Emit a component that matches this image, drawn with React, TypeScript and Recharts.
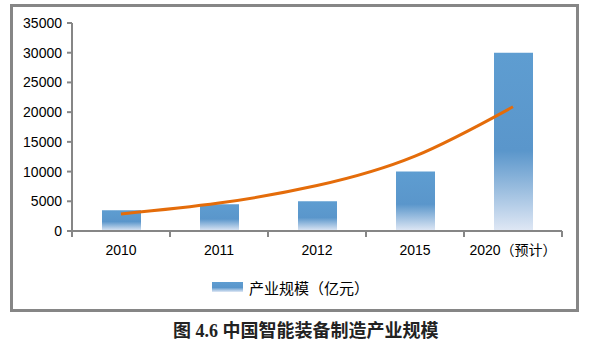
import {
  ComposedChart,
  Bar,
  Line,
  XAxis,
  YAxis,
  Legend,
} from "recharts";

const years = ["2010", "2011", "2012", "2015", "2020（预计）"];
const scaleValues = [3500, 4500, 5000, 10000, 30000]; // 产业规模（亿元）
const trendValues = [2860, 4700, 7650, 12600, 20900]; // 指数趋势线
const yTicks = [0, 5000, 10000, 15000, 20000, 25000, 30000, 35000];

const data = years.map((y, i) => ({
  year: y,
  value: scaleValues[i],
  trend: trendValues[i],
}));

const AXIS = "#868686";
const FONT = "'Liberation Sans', 'Noto Sans CJK SC', sans-serif";
const TICK_GAP = 14;

// 刻度线画在分类边界上，文字居中
const XTick = (props: any) => {
  const { x, y, payload, index, visibleTicksCount } = props;
  const off = payload?.offset ?? 0;
  const top = y - TICK_GAP;
  const last = index === visibleTicksCount - 1;
  return (
    <g>
      <line x1={x - off} x2={x - off} y1={top} y2={top + 6} stroke={AXIS} strokeWidth={2} />
      {last && (
        <line x1={x + off} x2={x + off} y1={top} y2={top + 6} stroke={AXIS} strokeWidth={2} />
      )}
      <text x={x} y={y} dy="0.71em" textAnchor="middle" fill="#000" fontSize={14} fontFamily={FONT}>
        {payload.value}
      </text>
    </g>
  );
};

const LegendBox = () => (
  <div style={{ display: "flex", alignItems: "center", height: 18, fontFamily: FONT, fontSize: 15 }}>
    <svg width={31} height={10} style={{ marginRight: 6 }}>
      <rect x={0} y={0} width={31} height={10} fill="url(#barGrad)" />
    </svg>
    <span>产业规模（亿元）</span>
  </div>
);

export default function App() {
  return (
    <div style={{ position: "absolute", left: 0, top: 0, width: 595, height: 346, background: "#fff" }}>
      <div
        style={{
          position: "absolute",
          left: 10,
          top: 4,
          width: 569,
          height: 308,
          border: `3px solid ${AXIS}`,
          boxSizing: "border-box",
        }}
      >
        <ComposedChart
          width={563}
          height={302}
          data={data}
          margin={{ top: 16, right: 14, left: 0, bottom: 30 }}
        >
          <defs>
            <linearGradient id="barGrad" x1="0" y1="0" x2="0" y2="1">
              <stop offset="0" stopColor="#5E9DD1" />
              <stop offset="0.55" stopColor="#5A96CB" />
              <stop offset="1" stopColor="#E0E8F5" />
            </linearGradient>
          </defs>
          <XAxis
            dataKey="year"
            interval={0}
            height={30}
            tickSize={0}
            tickMargin={TICK_GAP}
            tick={<XTick />}
            axisLine={{ stroke: AXIS, strokeWidth: 2 }}
          />
          <YAxis
            width={59}
            domain={[0, 35000]}
            ticks={yTicks}
            interval={0}
            tickSize={5}
            tickMargin={5}
            tick={{ fill: "#000", fontSize: 14, fontFamily: FONT }}
            axisLine={{ stroke: AXIS, strokeWidth: 2 }}
            tickLine={{ stroke: AXIS, strokeWidth: 2 }}
          />
          <Bar dataKey="value" fill="url(#barGrad)" barSize={39} isAnimationActive={false} />
          <Line
            dataKey="trend"
            type="natural"
            stroke="#E46C0A"
            strokeWidth={3}
            dot={false}
            activeDot={false}
            isAnimationActive={false}
          />
          <Legend
            content={<LegendBox />}
            wrapperStyle={{ left: 199, top: 271, width: "auto", height: 18 }}
          />
        </ComposedChart>
      </div>
      <div
        style={{
          position: "absolute",
          left: 173,
          top: 320,
          fontFamily: "'Liberation Serif', 'Noto Sans CJK SC', serif",
          fontWeight: "bold",
          fontSize: 18,
          lineHeight: "22px",
          color: "#222",
          whiteSpace: "nowrap",
        }}
      >
        图 4.6 中国智能装备制造产业规模
      </div>
    </div>
  );
}
